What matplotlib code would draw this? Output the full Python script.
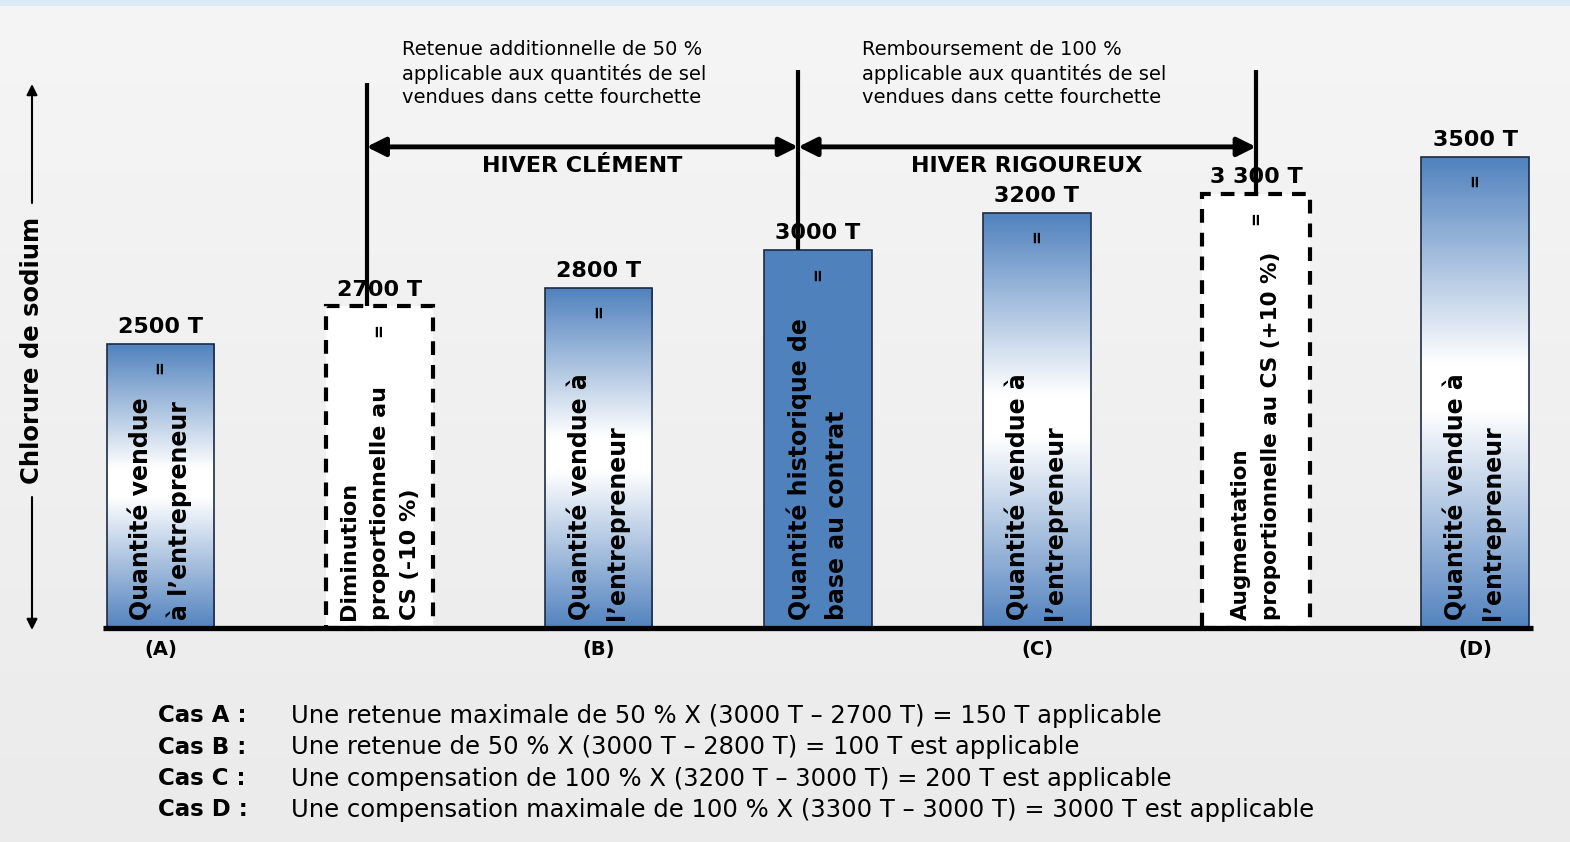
import numpy as np
import matplotlib
matplotlib.use("Agg")
import matplotlib.pyplot as plt
from matplotlib.colors import LinearSegmentedColormap

# ---- data ----
values = [2500, 2700, 2800, 3000, 3200, 3300, 3500]
value_labels = ['2500 T', '2700 T', '2800 T', '3000 T', '3200 T', '3 300 T', '3500 T']
kinds = ['grad', 'dash', 'grad', 'solid', 'grad', 'dash', 'grad']
categories = ['(A)', '', '(B)', '', '(C)', '', '(D)']
bar_texts = [
    "Quantité vendue\nà l’entrepreneur",
    "Diminution\nproportionnelle au\nCS (-10 %)",
    "Quantité vendue à\nl’entrepreneur",
    "Quantité historique de\nbase au contrat",
    "Quantité vendue à\nl’entrepreneur",
    "Augmentation\nproportionnelle au CS (+10 %)",
    "Quantité vendue à\nl’entrepreneur",
]
bracket_bars = [1, 3, 5]
bracket_tops = [3895, 3964, 3964]
zone_labels = ['HIVER CLÉMENT', 'HIVER RIGOUREUX']
zone_notes = [
    "Retenue additionnelle de 50 %\napplicable aux quantités de sel\nvendues dans cette fourchette",
    "Remboursement de 100 %\napplicable aux quantités de sel\nvendues dans cette fourchette",
]
cases = ['Cas A :', 'Cas B :', 'Cas C :', 'Cas D :']
case_texts = [
    "Une retenue maximale de 50 % X (3000 T – 2700 T) = 150 T applicable",
    "Une retenue de 50 % X (3000 T – 2800 T) = 100 T est applicable",
    "Une compensation de 100 % X (3200 T – 3000 T) = 200 T est applicable",
    "Une compensation maximale de 100 % X (3300 T – 3000 T) = 3000 T est applicable",
]

# ---- style ----
W, H = 1570, 842
BLUE = '#4F81BD'
EDGE = '#1c2b45'
base = 982          # floor of the schematic (T)
width = 0.49
text_sizes = [17, 16, 17, 17, 17, 15.5, 17]
bracket_shift = [-0.06, -0.09, 0.0]
note_px = [(402, 40), (862, 40)]
plt.rcParams['font.family'] = ['DejaVu Sans']

fig = plt.figure(figsize=(W / 100, H / 100), dpi=100)

# background in pixel space
bg = fig.add_axes([0, 0, 1, 1])
grad_bg = np.linspace(0, 1, 256).reshape(-1, 1)
bg_cmap = LinearSegmentedColormap.from_list('bg', ['#F5F5F5', '#EBEBEB'])
bg.imshow(grad_bg, cmap=bg_cmap, aspect='auto', extent=[0, W, H, 0])
bg.axhspan(0, 6, color='#DCEAF6', lw=0)
bg.set_xlim(0, W)
bg.set_ylim(H, 0)
bg.axis('off')

ax = fig.add_axes([0, 0, 1, 1])
ax.patch.set_alpha(0)
bar_cmap = LinearSegmentedColormap.from_list(
    'bar', [(0, '#5383BF'), (0.46, '#FFFFFF'), (0.56, '#FFFFFF'), (1, BLUE)])
grad = np.linspace(0, 1, 256).reshape(-1, 1)

x = np.arange(len(values))
for i, (v, k) in enumerate(zip(values, kinds)):
    if k == 'solid':
        ax.bar(i, v - base, bottom=base, width=width, color=BLUE,
               edgecolor=EDGE, lw=1.2, zorder=3)
    elif k == 'grad':
        b = ax.bar(i, v - base, bottom=base, width=width, facecolor='none',
                   edgecolor=EDGE, lw=1.2, zorder=3)[0]
        im = ax.imshow(grad, cmap=bar_cmap, origin='lower', aspect='auto',
                       extent=[i - width / 2, i + width / 2, base, v], zorder=2)
        im.set_clip_path(b)
    else:
        ax.bar(i, v - base, bottom=base, width=width, facecolor='white',
               edgecolor='black', lw=3, linestyle=(0, (3.3, 2.4)), zorder=3)

    ax.annotate(value_labels[i], (i, v), xytext=(0, 5), textcoords='offset points',
                ha='center', va='bottom', fontsize=16, fontweight='bold', zorder=6)
    ax.annotate('=', (i, v), xytext=(0, -17), textcoords='offset points',
                ha='center', va='center', rotation=90, fontsize=12,
                fontweight='bold', zorder=6)
    ax.annotate(bar_texts[i], (i, base), xytext=(0, 6), textcoords='offset points',
                rotation=90, rotation_mode='anchor', ha='left', va='center',
                multialignment='left', fontsize=text_sizes[i], fontweight='bold',
                linespacing=1.65, zorder=6)
    if categories[i]:
        ax.annotate(categories[i], (i, base), xytext=(0, -9), textcoords='offset points',
                    ha='center', va='top', fontsize=14, fontweight='bold')

# baseline
ax.hlines(base, x[0] - width / 2 - 0.02, x[-1] + width / 2 + 0.02,
          color='black', lw=3.8, zorder=5)

# brackets
arrow_y = 3553
line_x = [b + s for b, s in zip(bracket_bars, bracket_shift)]
for bx, top, bi in zip(line_x, bracket_tops, bracket_bars):
    ax.vlines(bx, values[bi], top, color='black', lw=3, zorder=4)
for j in range(2):
    ax.annotate('', xy=(line_x[j + 1], arrow_y), xytext=(line_x[j], arrow_y),
                arrowprops=dict(arrowstyle='<|-|>', lw=3.5, color='black',
                                mutation_scale=28, shrinkA=0, shrinkB=0))
    mid = (line_x[j] + line_x[j + 1]) / 2
    ax.annotate(zone_labels[j], (mid, arrow_y), xytext=(0, -14),
                textcoords='offset points', ha='center', va='center',
                fontsize=16, fontweight='bold')
    bg.text(note_px[j][0], note_px[j][1], zone_notes[j], ha='left', va='top',
            fontsize=14, linespacing=1.3)

ax.set_xlim(-0.733, 6.433)
ax.set_ylim(-162, 4338)
ax.axis('off')

# vertical axis label with arrows
bg.annotate('', xy=(32, 84), xytext=(32, 203),
            arrowprops=dict(arrowstyle='-|>', lw=1.5, color='black',
                            mutation_scale=16, shrinkA=0, shrinkB=0))
bg.annotate('', xy=(32, 630), xytext=(32, 497),
            arrowprops=dict(arrowstyle='-|>', lw=1.5, color='black',
                            mutation_scale=16, shrinkA=0, shrinkB=0))
bg.text(32, 350, 'Chlorure de sodium', rotation=90, ha='center', va='center',
        fontsize=17.5, fontweight='bold')

# case notes
for j, (c, t) in enumerate(zip(cases, case_texts)):
    yy = 716 + j * 31.3
    bg.text(158, yy, c, ha='left', va='center', fontsize=16.5, fontweight='bold')
    bg.text(291, yy, t, ha='left', va='center', fontsize=17.5)

fig.savefig('out.png', dpi=100)
